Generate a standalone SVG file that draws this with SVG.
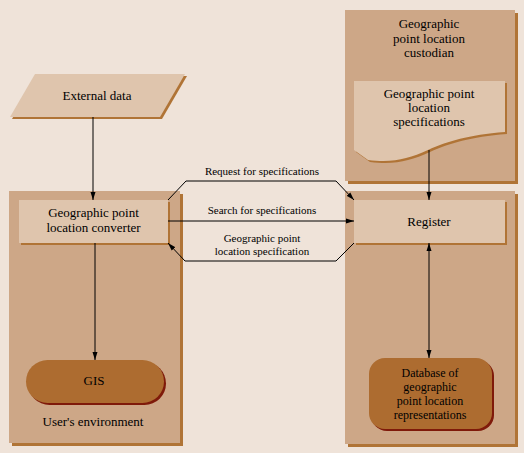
<svg xmlns="http://www.w3.org/2000/svg" width="524" height="453" viewBox="0 0 524 453">
<defs>
<marker id="ah" viewBox="0 0 8 6" refX="8" refY="3" markerWidth="8" markerHeight="6" markerUnits="userSpaceOnUse" orient="auto-start-reverse">
<path d="M0,0.5 L8,3 L0,5.5 Z" fill="#000"/>
</marker>
</defs>
<style>
.cont{fill:#CDA787;}
.sh{fill:#B07436;}
.box{fill:#DFC5AD;}
.t{font-family:"Liberation Serif","Times New Roman",serif;font-size:13px;fill:#000;text-anchor:middle;}
.d{font-size:12px;}
.s{font-family:"Liberation Serif","Times New Roman",serif;font-size:11px;fill:#000;text-anchor:middle;}
.c{fill:none;stroke:#000;stroke-width:1;}
</style>
<rect width="524" height="453" fill="#EFE3D9"/>

<g id="users-environment">
<rect class="sh" x="12" y="194" width="171" height="252"/>
<rect class="cont" x="9" y="191" width="171" height="252"/>
<text class="t" x="93" y="426">User's environment</text>
</g>

<g id="registry-environment">
<rect class="sh" x="348" y="194" width="170" height="253"/>
<rect class="cont" x="345" y="191" width="170" height="253"/>
</g>

<g id="custodian">
<rect class="sh" x="348" y="13" width="170" height="171"/>
<rect class="cont" x="345" y="10" width="170" height="171"/>
<text class="t" x="429" y="28">Geographic</text>
<text class="t" x="429" y="43">point location</text>
<text class="t" x="429" y="57">custodian</text>
</g>

<g id="external-data">
<polygon class="sh" points="37,76 187,76 162,119 12,119"/>
<polygon class="box" points="35,74 185,74 160,117 10,117"/>
<text class="t" x="97" y="100">External data</text>
</g>

<g id="converter">
<rect class="sh" x="21" y="202" width="149" height="43"/>
<rect class="box" x="19" y="200" width="149" height="43"/>
<text class="t" x="93.5" y="217">Geographic point</text>
<text class="t" x="93.5" y="232">location converter</text>
</g>

<g id="gis">
<rect x="28" y="362" width="138" height="43" rx="21.5" fill="#7F1A0A"/>
<rect x="26" y="360" width="138" height="43" rx="21.5" fill="#AD6C30"/>
<text class="t" x="94" y="385">GIS</text>
</g>

<g id="register">
<rect class="sh" x="356" y="202" width="151" height="43"/>
<rect class="box" x="354" y="200" width="151" height="43"/>
<text class="t" x="429" y="226">Register</text>
</g>

<g id="specifications">
<path class="sh" d="M356,83 L507,83 L507,134 C470,137 450,143 430,152 C410,161 395,165 370,162 L356,152 Z"/>
<path class="box" d="M354,81 L505,81 L505,132 C468,135 448,141 428,150 C408,159 393,163 368,160 L354,150 Z"/>
<text class="t" x="429" y="98">Geographic point</text>
<text class="t" x="429" y="112">location</text>
<text class="t" x="429" y="126">specifications</text>
</g>

<g id="database">
<rect x="371" y="360" width="123" height="71" rx="16" fill="#7F1A0A"/>
<rect x="369" y="358" width="123" height="71" rx="16" fill="#AD6C30"/>
<text class="t d" x="430" y="377">Database of</text>
<text class="t d" x="430" y="391">geographic</text>
<text class="t d" x="430" y="405">point location</text>
<text class="t d" x="430" y="419">representations</text>
</g>

<g id="connectors">
<line class="c" x1="93" y1="117" x2="93" y2="200" marker-end="url(#ah)"/>
<line class="c" x1="95" y1="243" x2="95" y2="360" marker-end="url(#ah)"/>
<line class="c" x1="429" y1="150" x2="429" y2="200" marker-end="url(#ah)"/>
<line class="c" x1="429" y1="243" x2="429" y2="358" marker-start="url(#ah)" marker-end="url(#ah)"/>
<polyline class="c" points="168,200 186,181 336,181 354,200" marker-end="url(#ah)"/>
<line class="c" x1="168" y1="221" x2="354" y2="221" marker-end="url(#ah)"/>
<polyline class="c" points="354,243 336,261 185,261 168,243" marker-end="url(#ah)"/>
<text class="s" x="262" y="175">Request for specifications</text>
<text class="s" x="262" y="214">Search for specifications</text>
<text class="s" x="262" y="242">Geographic point</text>
<text class="s" x="262" y="255">location specification</text>
</g>
</svg>
